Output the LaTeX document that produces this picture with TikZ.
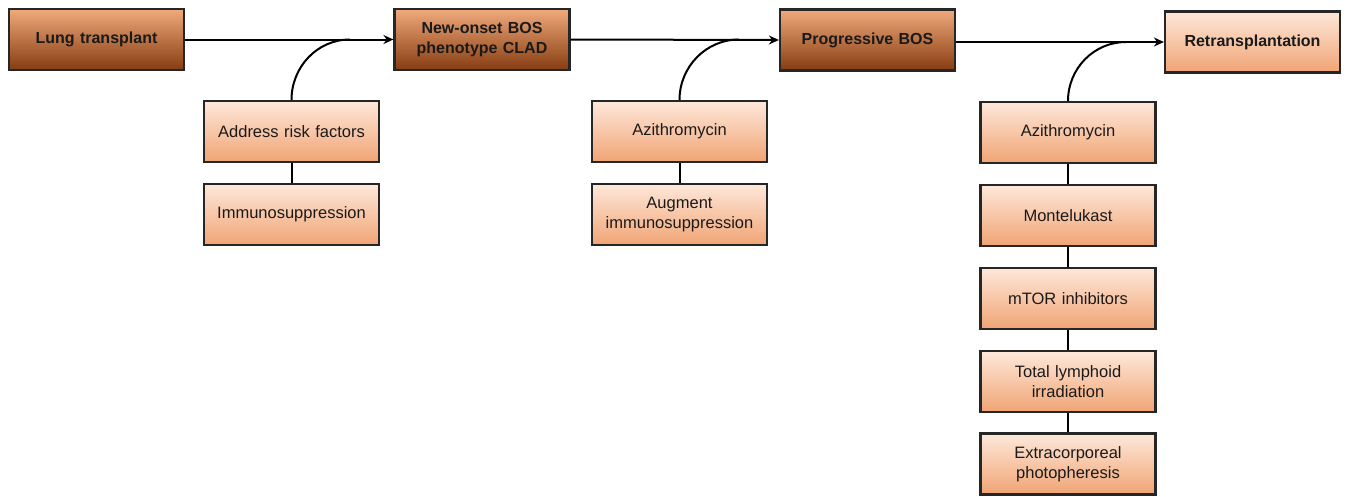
\documentclass[tikz,border=0pt]{standalone}
\usepackage{fontspec}
\setmainfont{Liberation Sans}
\usetikzlibrary{arrows.meta}
\definecolor{darktop}{HTML}{F0AA7C}
\definecolor{darkbot}{HTML}{863C10}
\definecolor{lighttop}{HTML}{FEE8DA}
\definecolor{lightbot}{HTML}{F0A474}
\definecolor{txt}{HTML}{1A1A1A}
\tikzset{
  basebox/.style={draw=black!85, line width=2.2pt, minimum width=175pt, minimum height=61pt,
    text width=168pt, align=center, inner sep=0pt, font=\fontsize{16.5}{20}\selectfont, text=txt},
  darkbox/.style={basebox, top color=darktop, bottom color=darkbot, font=\fontsize{16}{20}\selectfont\bfseries},
  lightbox/.style={basebox, top color=lighttop, bottom color=lightbot},
  arr/.style={line width=2pt, -{Stealth[length=10pt,width=9pt]}},
  link/.style={line width=2pt}
}
\begin{document}
\begin{tikzpicture}[x=1pt,y=-1pt]
\useasboundingbox (0,0) rectangle (1350,496);
% main steps
\node[darkbox] (lt) at (96.5,39.5) {Lung transplant};
\node[darkbox] (nob) at (482,39.5) {New-onset BOS\\phenotype CLAD};
\node[darkbox] (pb) at (867.5,40) {Progressive BOS};
\node[lightbox, font=\fontsize{16}{20}\selectfont\bfseries] (rt) at (1252.5,42) {Retransplantation};
% treatments
\node[lightbox] (arf) at (291.5,131.5) {Address risk factors};
\node[lightbox] (imm) at (291.5,214.5) {Immunosuppression};
\node[lightbox] (az1) at (679.5,131.5) {Azithromycin};
\node[lightbox] (aug) at (679.5,214.5) {Augment\\immunosuppression};
\node[lightbox] (az2) at (1068,132.5) {Azithromycin};
\node[lightbox] (mon) at (1068,215.5) {Montelukast};
\node[lightbox] (mtor) at (1068,298.5) {mTOR inhibitors};
\node[lightbox] (tli) at (1068,381.5) {Total lymphoid\\irradiation};
\node[lightbox] (ecp) at (1068,464) {Extracorporeal\\photopheresis};
% junctions
\coordinate (j1) at (350,39.5);
\coordinate (j2) at (739,39.5);
\coordinate (j3) at (1126,42);
% main arrows
\draw[arr] (lt.east) -- (nob.west);
\draw[arr] (nob.east) -- (pb.west);
\draw[arr] (pb.east |- rt.west) -- (rt.west);
% curves
\draw[link] (arf.north) to[out=90,in=180] (j1);
\draw[link] (az1.north) to[out=90,in=180] (j2);
\draw[link] (az2.north) to[out=90,in=180] (j3);
% stacks
\draw[link] (arf.south) -- (imm.north);
\draw[link] (az1.south) -- (aug.north);
\draw[link] (az2.south) -- (mon.north);
\draw[link] (mon.south) -- (mtor.north);
\draw[link] (mtor.south) -- (tli.north);
\draw[link] (tli.south) -- (ecp.north);
\end{tikzpicture}
\end{document}
